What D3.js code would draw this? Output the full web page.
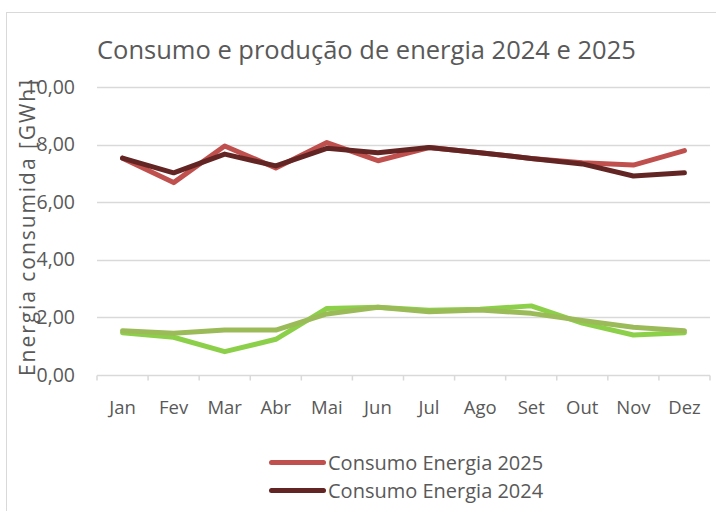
<!DOCTYPE html>
<html>
<head>
<meta charset="utf-8">
<script src="https://cdn.jsdelivr.net/npm/d3@7"></script>
<style>
  body { margin: 0; background: #fff; }
  text { font-family: "Open Sans", "Noto Sans", sans-serif; fill: #595959; }
</style>
</head>
<body>
<div id="chart"></div>
<script>
// ---------------- data ----------------
var months = ["Jan", "Fev", "Mar", "Abr", "Mai", "Jun", "Jul", "Ago", "Set", "Out", "Nov", "Dez"];
var consumo2025 = [7.53, 6.68, 7.95, 7.19, 8.07, 7.44, 7.90, 7.72, 7.52, 7.37, 7.29, 7.79];
var consumo2024 = [7.53, 7.02, 7.67, 7.26, 7.87, 7.72, 7.90, 7.72, 7.52, 7.33, 6.91, 7.02];
var producaoA = [1.47, 1.31, 0.81, 1.24, 2.31, 2.35, 2.25, 2.28, 2.40, 1.80, 1.39, 1.47];
var producaoB = [1.54, 1.45, 1.56, 1.56, 2.12, 2.35, 2.20, 2.26, 2.14, 1.89, 1.66, 1.54];
var yTicks = [0, 2, 4, 6, 8, 10];

var series = [
  {name: "Consumo Energia 2025", values: consumo2025, color: "#C0504D", legend: true},
  {name: "Consumo Energia 2024", values: consumo2024, color: "#632523", legend: true},
  {name: "Produção A", values: producaoA, color: "#8CD04A", legend: false},
  {name: "Produção B", values: producaoB, color: "#9BBB59", legend: false}
];

// ---------------- canvas ----------------
var width = 716, height = 511;
var plot = {left: 97, right: 710, top: 87, bottom: 375};

var svg = d3.select("#chart").append("svg")
  .attr("width", width)
  .attr("height", height);

// chart area border
svg.append("rect")
  .attr("x", 6.5).attr("y", 12.5)
  .attr("width", 730).attr("height", 530)
  .attr("fill", "none")
  .attr("stroke", "#D9D9D9");

// ---------------- scales ----------------
var x = d3.scaleBand().domain(months).range([plot.left, plot.right]);
var y = d3.scaleLinear().domain([0, 10]).range([plot.bottom, plot.top]);
var fmt = function(v) { return d3.format(".2f")(v).replace(".", ","); };

// gridlines
svg.append("g")
  .selectAll("line")
  .data(yTicks.filter(function(d) { return d > 0; }))
  .enter().append("line")
    .attr("x1", plot.left).attr("x2", plot.right)
    .attr("y1", function(d) { return Math.round(y(d)) + 0.5; })
    .attr("y2", function(d) { return Math.round(y(d)) + 0.5; })
    .attr("stroke", "#D9D9D9")
    .attr("stroke-width", 1.5);

// x axis
var xAxis = svg.append("g")
  .attr("transform", "translate(0," + (Math.round(plot.bottom) + 0.5) + ")");
xAxis.append("line")
  .attr("x1", plot.left).attr("x2", plot.right)
  .attr("stroke", "#D9D9D9").attr("stroke-width", 1.5);
xAxis.selectAll(".tick")
  .data(d3.range(months.length + 1))
  .enter().append("line")
    .attr("x1", function(i) { return plot.left + i * x.step(); })
    .attr("x2", function(i) { return plot.left + i * x.step(); })
    .attr("y1", 0).attr("y2", 5)
    .attr("stroke", "#D9D9D9").attr("stroke-width", 1.5);
xAxis.selectAll("text")
  .data(months)
  .enter().append("text")
    .attr("x", function(d) { return x(d) + x.bandwidth() / 2; })
    .attr("y", 38)
    .attr("text-anchor", "middle")
    .style("font-size", "18.5px")
    .text(function(d) { return d; });

// y tick labels
svg.append("g")
  .selectAll("text")
  .data(yTicks)
  .enter().append("text")
    .attr("x", 75)
    .attr("y", function(d) { return y(d) + 6.5; })
    .attr("text-anchor", "end")
    .style("font-size", "19.5px")
    .text(fmt);

// ---------------- lines ----------------
var line = d3.line()
  .x(function(d, i) { return x(months[i]) + x.bandwidth() / 2; })
  .y(function(d) { return y(d); });

svg.append("g")
  .selectAll("path")
  .data(series)
  .enter().append("path")
    .attr("d", function(s) { return line(s.values); })
    .attr("fill", "none")
    .attr("stroke", function(s) { return s.color; })
    .attr("stroke-width", 5)
    .attr("stroke-linejoin", "round")
    .attr("stroke-linecap", "round");

// ---------------- titles ----------------
svg.append("text")
  .attr("x", 97)
  .attr("y", 59)
  .style("font-size", "25.5px")
  .text("Consumo e produção de energia 2024 e 2025");

// axis title sits over the tick labels, as in the original
svg.append("text")
  .attr("transform", "translate(35,228) rotate(-90)")
  .attr("text-anchor", "middle")
  .attr("textLength", 296)
  .attr("lengthAdjust", "spacing")
  .style("font-size", "21px")
  .text("Energia consumida [GWh]");

// ---------------- legend ----------------
var legend = svg.append("g")
  .selectAll("g")
  .data(series.filter(function(s) { return s.legend; }))
  .enter().append("g")
    .attr("transform", function(s, i) { return "translate(271.5," + (462.5 + i * 28) + ")"; });
legend.append("line")
  .attr("x1", 0).attr("x2", 52)
  .attr("stroke", function(s) { return s.color; })
  .attr("stroke-width", 5)
  .attr("stroke-linecap", "round");
legend.append("text")
  .attr("x", 56.5).attr("y", 7.3)
  .style("font-size", "20px")
  .text(function(s) { return s.name; });
</script>
</body>
</html>
